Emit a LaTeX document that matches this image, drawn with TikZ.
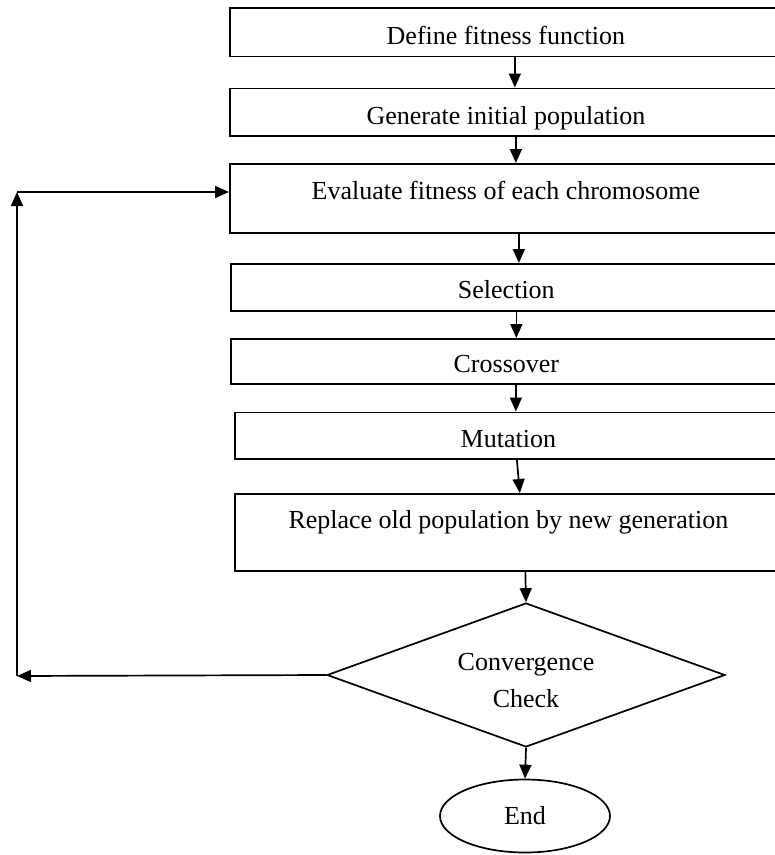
\documentclass[tikz,border=0pt]{standalone}
\usepackage{fontspec}
\setmainfont{Liberation Serif}
\usetikzlibrary{shapes.geometric,arrows.meta}
\begin{document}
\begin{tikzpicture}[x=1pt,y=-1pt,
  font=\fontsize{26}{37}\selectfont,
  line width=1.7pt,
  box/.style={draw, rectangle, anchor=north west, inner sep=0pt},
  arr/.style={-{Triangle[length=14pt,width=12pt]}}]
\useasboundingbox (0,0) rectangle (775,855);
\clip (0,0) rectangle (775,855);
\node[box, minimum width=552pt, text height=37pt, text depth=11.5pt] (b1) at (229,7) {Define fitness function};
\node[box, minimum width=552pt, text height=36.5pt, text depth=11pt] (b2) at (229,87.5) {Generate initial population};
\node[box, minimum width=552pt, text height=36pt, text depth=33pt] (b3) at (229,163) {Evaluate fitness of each chromosome};
\node[box, minimum width=551pt, text height=35pt, text depth=12pt] (b4) at (230,263) {Selection};
\node[box, minimum width=551pt, text height=34pt, text depth=11pt] (b5) at (230,338) {Crossover};
\node[box, minimum width=547pt, text height=35.5pt, text depth=11pt] (b6) at (234,411.5) {Mutation};
\node[box, minimum width=547pt, text height=35pt, text depth=42pt] (b7) at (234,493) {Replace old population by new generation};
\node[diamond, draw, minimum width=398pt, minimum height=144pt, aspect=2.76, inner sep=0pt] (d) at (526,675) {\raisebox{-7pt}[\height][\depth]{\begin{tabular}{@{}c@{}}Convergence\\Check\end{tabular}}};
\node[ellipse, draw, minimum width=170pt, minimum height=73pt, inner sep=0pt] (e) at (525,816) {End};
\draw[arr] ([xshift=9pt]b1.south) -- ([xshift=9pt]b2.north);
\draw[arr] ([xshift=10pt]b2.south) -- ([xshift=10pt]b3.north);
\draw[arr] ([xshift=13pt]b3.south) -- ([xshift=12.5pt]b4.north);
\draw[arr] ([xshift=10pt]b4.south) -- ([xshift=10pt]b5.north);
\draw[arr] ([xshift=9.5pt]b5.south) -- ([xshift=7.5pt]b6.north);
\draw[arr] ([xshift=8.5pt]b6.south) -- ([xshift=11.5pt]b7.north);
\draw[arr] ([xshift=17pt]b7.south) -- (d.north);
\draw[arr] (d.south) -- (e.north);
\coordinate (c1) at (17,676);
\coordinate (c2) at (17,192);
\draw[arr] (d.west) -- (c1);
\draw[arr] (c1) -- (c2);
\draw[arr] (c2) -- (c2 -| b3.west);
\end{tikzpicture}
\end{document}
